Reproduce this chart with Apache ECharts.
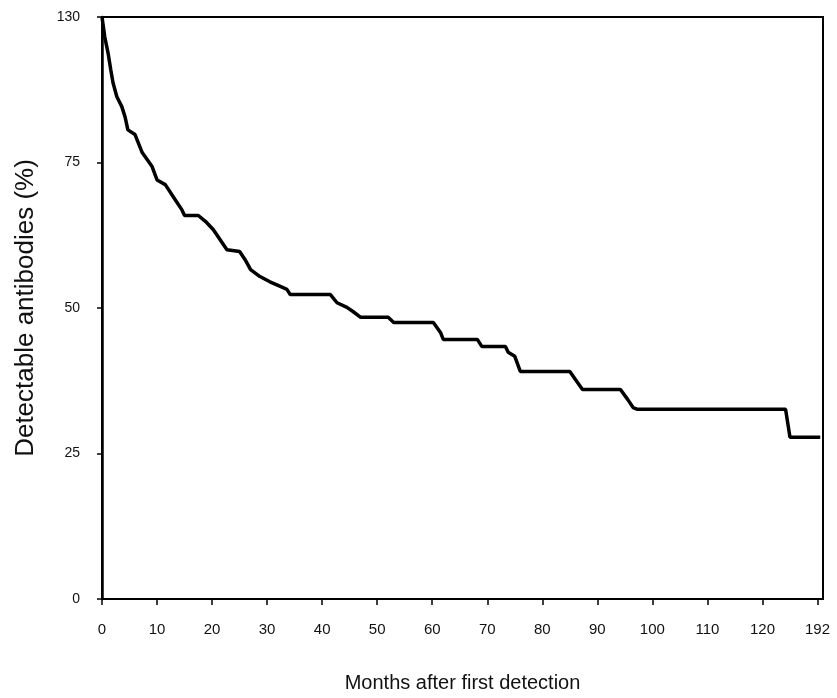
<!DOCTYPE html>
<html>
<head>
<meta charset="utf-8">
<script src="https://cdn.jsdelivr.net/npm/echarts@6/dist/echarts.min.js"></script>
<style>
html, body { margin: 0; padding: 0; background: #fff; }
#chart { width: 837px; height: 698px; }
</style>
</head>
<body>
<div id="chart"></div>
<script>
// months after first detection
var months = [0, 0.5, 1.1, 1.6, 2, 2.7, 3.6, 4.2, 4.7, 6, 7.3, 9.1, 10, 11.5, 13.3, 14.5, 15, 17.5,
    19, 20.2, 21.5, 22.7, 25, 26, 27, 28.7, 30.5, 32.4, 33.6, 34.2, 41.5, 42.7, 44.5, 45.6, 47, 52,
    53, 60.2, 61.5, 62, 68.2, 69, 73.3, 73.8, 75, 76, 85, 86.4, 87.3, 94.2, 95.5, 96.5, 97.3,
    124.2, 125, 130.5];
// detectable antibodies (%)
var detectable = [100, 96.6, 93.8, 90.9, 88.7, 86.3, 84.6, 82.8, 80.6, 79.8, 76.7, 74.3, 72, 71.2, 68.6, 66.9, 65.9, 65.9,
    64.7, 63.5, 61.7, 60, 59.7, 58.3, 56.6, 55.4, 54.5, 53.7, 53.2, 52.3, 52.3, 50.9, 50.1, 49.4, 48.4, 48.4,
    47.5, 47.5, 45.8, 44.6, 44.6, 43.4, 43.4, 42.4, 41.7, 39.1, 39.1, 37.2, 36, 36, 34.3, 32.9, 32.6,
    32.6, 27.8, 27.8];
// tick labels as printed
var xTickLabels = ['0', '10', '20', '30', '40', '50', '60', '70', '80', '90', '100', '110', '120', '192'];
var yTickLabels = ['0', '25', '50', '75', '130'];

var points = months.map(function (m, i) { return [m, detectable[i]]; });

var chart = echarts.init(document.getElementById('chart'));
chart.setOption({
    animation: false,
    backgroundColor: '#fff',
    grid: {
        left: 102,
        right: 14,
        top: 17,
        bottom: 98,
        show: true,
        borderColor: '#000',
        borderWidth: 2
    },
    xAxis: {
        type: 'value',
        min: 0,
        max: 131,
        interval: 10,
        name: 'Months after first detection',
        nameLocation: 'middle',
        nameGap: 74,
        nameTextStyle: { fontFamily: 'Liberation Sans', fontSize: 20, color: '#111' },
        axisLine: { lineStyle: { color: '#000', width: 2 } },
        axisTick: { length: 6, lineStyle: { color: '#000', width: 1.5 } },
        axisLabel: {
            fontFamily: 'Liberation Sans', fontSize: 15, color: '#111', margin: 23,
            showMaxLabel: false,
            formatter: function (v) { return xTickLabels[Math.round(v / 10)] || ''; }
        },
        splitLine: { show: false }
    },
    yAxis: {
        type: 'value',
        min: 0,
        max: 100,
        interval: 25,
        name: 'Detectable antibodies (%)',
        nameLocation: 'middle',
        nameGap: 63,
        nameTextStyle: { fontFamily: 'Liberation Sans', fontSize: 26, color: '#111' },
        axisLine: { show: true, lineStyle: { color: '#000', width: 2.5 } },
        axisTick: { show: true, length: 5, lineStyle: { color: '#000', width: 1.5 } },
        axisLabel: {
            fontFamily: 'Liberation Sans', fontSize: 14, color: '#111', margin: 22,
            formatter: function (v) { return yTickLabels[Math.round(v / 25)]; }
        },
        splitLine: { show: false }
    },
    series: [{
        type: 'line',
        data: points,
        showSymbol: false,
        lineStyle: { color: '#000', width: 3.5 }
    }]
});
</script>
</body>
</html>
